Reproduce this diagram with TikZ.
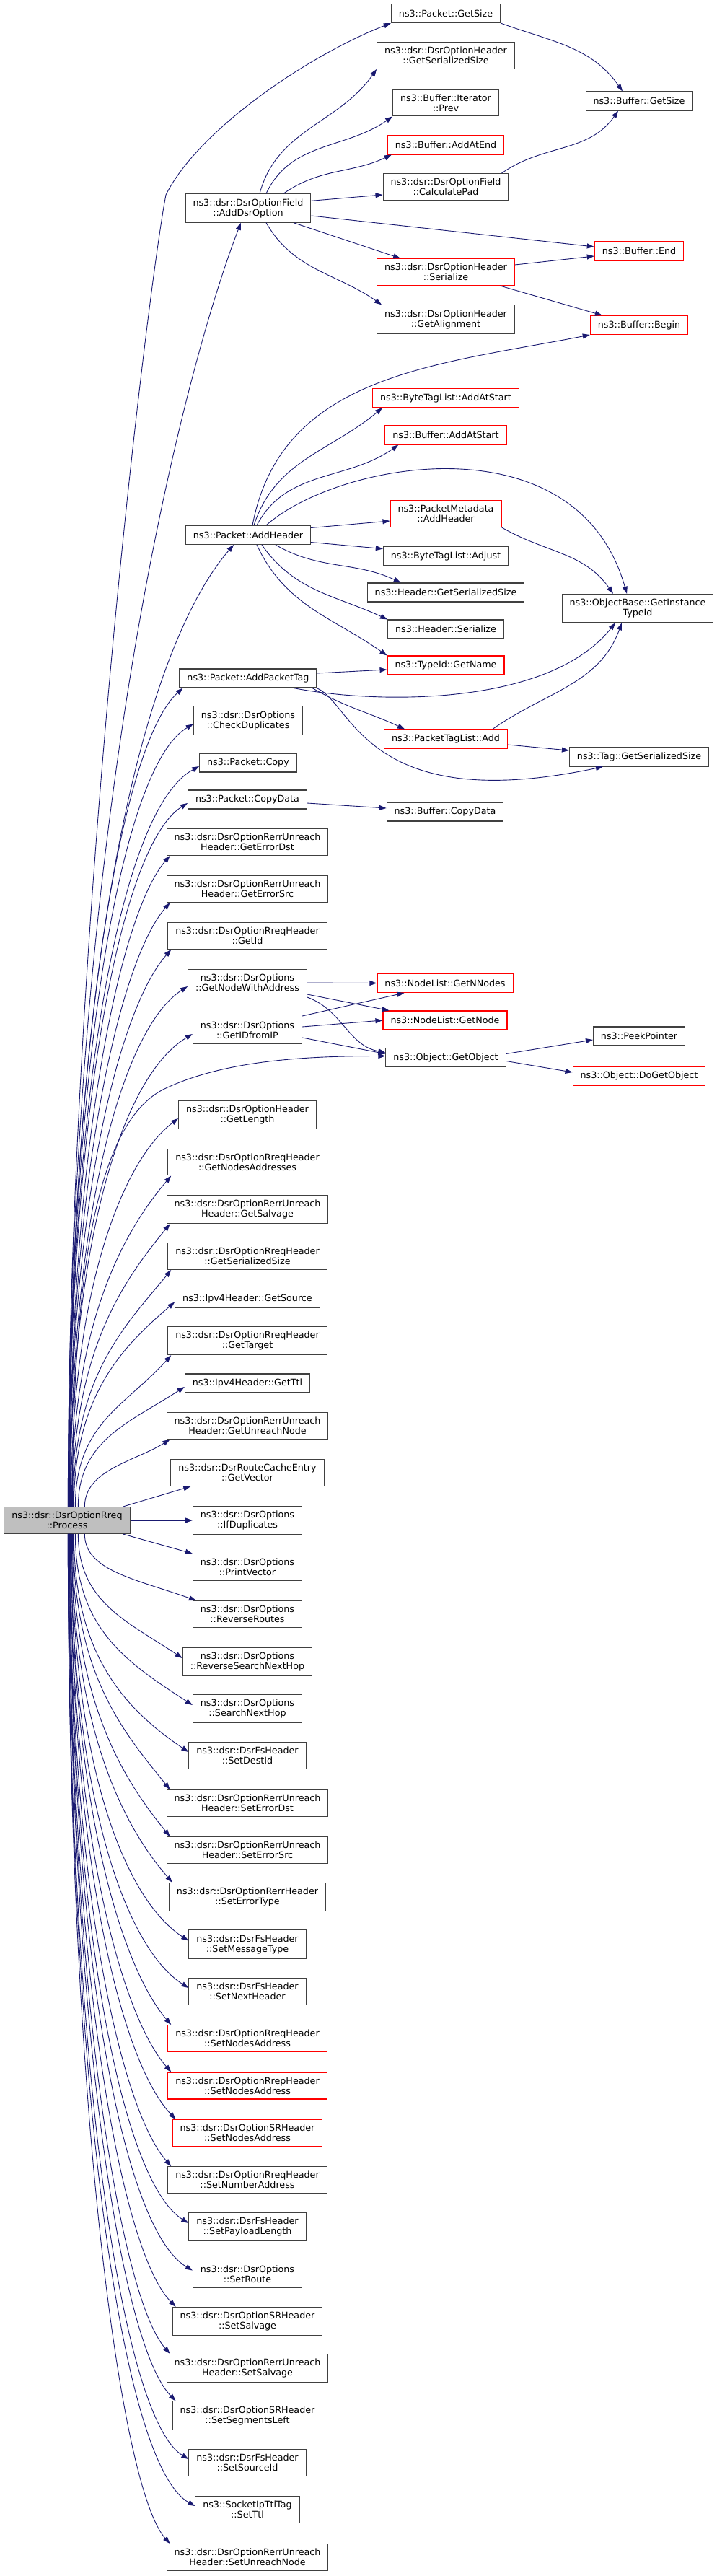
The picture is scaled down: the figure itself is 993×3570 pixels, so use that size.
\documentclass[tikz,border=0pt]{standalone}
\usepackage{fontspec}
\setmainfont{DejaVu Sans}
\usetikzlibrary{arrows.meta,calc}

\definecolor{callblue}{HTML}{191970}
\definecolor{boxgray}{HTML}{BFBFBF}
\definecolor{boxline}{HTML}{404040}

\tikzset{
  fn/.style={draw=boxline, line width=1.1pt, fill=white, align=center,
    inner xsep=10.5pt, inner ysep=6.5pt, minimum height=26pt,
    font=\fontsize{12.7}{14}\selectfont},
  fnred/.style={fn, draw=red},
  fnroot/.style={fn, fill=boxgray},
  call/.style={draw=callblue, line width=0.9pt,
    -{Triangle[length=10pt,width=7pt]}},
}

\begin{document}
\begin{tikzpicture}[x=1pt,y=1pt]
  \useasboundingbox (0,0) rectangle (993,-3570);

  % The caller:
  % Grey box on the far left, every call starts here
  \node[fnroot] (root) at (93,-2107) {ns3::dsr::DsrOptionRreq\\::Process};

  % Right column:
  \node[fn]    (bgetsize) at (886,-140)   {ns3::Buffer::GetSize};
  \node[fnred] (bend)     at (886,-348)   {ns3::Buffer::End};
  \node[fnred] (bbegin)   at (886,-450.5) {ns3::Buffer::Begin};
  \node[fn]    (gitid)    at (884,-843)   {ns3::ObjectBase::GetInstance\\TypeId};
  \node[fn]    (taggss)   at (886,-1049)  {ns3::Tag::GetSerializedSize};
  \node[fn]    (peek)     at (886,-1436)  {ns3::PeekPointer};
  \node[fnred] (dogetobj) at (886,-1491)  {ns3::Object::DoGetObject};

  % Middle column:
  \node[fn]    (pgetsize)  at (618,-18.5)   {ns3::Packet::GetSize};
  \node[fn]    (ohgss)     at (618,-77)     {ns3::dsr::DsrOptionHeader\\::GetSerializedSize};
  \node[fn]    (prev)      at (618,-142.5)  {ns3::Buffer::Iterator\\::Prev};
  \node[fnred] (addatend)  at (618,-201)    {ns3::Buffer::AddAtEnd};
  \node[fn]    (calcpad)   at (618,-259)    {ns3::dsr::DsrOptionField\\::CalculatePad};
  \node[fnred] (ohser)     at (618,-377)    {ns3::dsr::DsrOptionHeader\\::Serialize};
  \node[fn]    (ohalign)   at (618,-442.5)  {ns3::dsr::DsrOptionHeader\\::GetAlignment};
  \node[fnred] (btladd)    at (618,-551.5)  {ns3::ByteTagList::AddAtStart};
  \node[fnred] (baddstart) at (618,-603)    {ns3::Buffer::AddAtStart};
  \node[fnred] (pmaddh)    at (618,-712)    {ns3::PacketMetadata\\::AddHeader};
  \node[fn]    (btladj)    at (618,-770.5)  {ns3::ByteTagList::Adjust};
  \node[fn]    (hgss)      at (618,-821)    {ns3::Header::GetSerializedSize};
  \node[fn]    (hser)      at (618,-872)    {ns3::Header::Serialize};
  \node[fnred] (tidname)   at (618,-922)    {ns3::TypeId::GetName};
  \node[fnred] (ptladd)    at (618,-1024)   {ns3::PacketTagList::Add};
  \node[fn]    (bcopy)     at (617,-1125)   {ns3::Buffer::CopyData};
  \node[fnred] (nnodes)    at (617,-1362.5) {ns3::NodeList::GetNNodes};
  \node[fnred] (getnode)   at (617,-1414)   {ns3::NodeList::GetNode};
  \node[fn]    (getobj)    at (618,-1465.5) {ns3::Object::GetObject};

  % First column, the callees of Process:
  \node[fn] (adddsr)    at (344,-288.5) {ns3::dsr::DsrOptionField\\::AddDsrOption};
  \node[fn] (addh)      at (344,-741.5) {ns3::Packet::AddHeader};
  \node[fn] (addtag)    at (344,-940)   {ns3::Packet::AddPacketTag};
  \node[fn] (chkdup)    at (344,-998.5) {ns3::dsr::DsrOptions\\::CheckDuplicates};
  \node[fn] (pcopy)     at (344,-1057)  {ns3::Packet::Copy};
  \node[fn] (pcopydata) at (343,-1108)  {ns3::Packet::CopyData};
  % The rest of the column is a plain list: name / y / border colour / text
  \foreach \nm/\yy/\bc/\txt in {
    gerrdst/1167/boxline/{ns3::dsr::DsrOptionRerrUnreach\\Header::GetErrorDst},
    gerrsrc/1232/boxline/{ns3::dsr::DsrOptionRerrUnreach\\Header::GetErrorSrc},
    getid/1297/boxline/{ns3::dsr::DsrOptionRreqHeader\\::GetId},
    getnwa/1362/boxline/{ns3::dsr::DsrOptions\\::GetNodeWithAddress},
    getidip/1428/boxline/{ns3::dsr::DsrOptions\\::GetIDfromIP},
    getlen/1545/boxline/{ns3::dsr::DsrOptionHeader\\::GetLength},
    getaddrs/1610.5/boxline/{ns3::dsr::DsrOptionRreqHeader\\::GetNodesAddresses},
    getsalv/1676/boxline/{ns3::dsr::DsrOptionRerrUnreach\\Header::GetSalvage},
    getss/1741/boxline/{ns3::dsr::DsrOptionRreqHeader\\::GetSerializedSize},
    getsrc/1799.5/boxline/{ns3::Ipv4Header::GetSource},
    gettarget/1858/boxline/{ns3::dsr::DsrOptionRreqHeader\\::GetTarget},
    getttl/1917/boxline/{ns3::Ipv4Header::GetTtl},
    getunr/1976/boxline/{ns3::dsr::DsrOptionRerrUnreach\\Header::GetUnreachNode},
    getvec/2041/boxline/{ns3::dsr::DsrRouteCacheEntry\\::GetVector},
    ifdup/2107/boxline/{ns3::dsr::DsrOptions\\::IfDuplicates},
    prvec/2172/boxline/{ns3::dsr::DsrOptions\\::PrintVector},
    revroutes/2237/boxline/{ns3::dsr::DsrOptions\\::ReverseRoutes},
    revsnh/2303/boxline/{ns3::dsr::DsrOptions\\::ReverseSearchNextHop},
    snh/2368/boxline/{ns3::dsr::DsrOptions\\::SearchNextHop},
    setdest/2433/boxline/{ns3::dsr::DsrFsHeader\\::SetDestId},
    seterrdst/2499/boxline/{ns3::dsr::DsrOptionRerrUnreach\\Header::SetErrorDst},
    seterrsrc/2564/boxline/{ns3::dsr::DsrOptionRerrUnreach\\Header::SetErrorSrc},
    seterrtype/2629/boxline/{ns3::dsr::DsrOptionRerrHeader\\::SetErrorType},
    setmsg/2694.5/boxline/{ns3::dsr::DsrFsHeader\\::SetMessageType},
    setnext/2760/boxline/{ns3::dsr::DsrFsHeader\\::SetNextHeader},
    rreqsna/2825/red/{ns3::dsr::DsrOptionRreqHeader\\::SetNodesAddress},
    rrepsna/2890.5/red/{ns3::dsr::DsrOptionRrepHeader\\::SetNodesAddress},
    srsna/2956/red/{ns3::dsr::DsrOptionSRHeader\\::SetNodesAddress},
    setnum/3021/boxline/{ns3::dsr::DsrOptionRreqHeader\\::SetNumberAddress},
    setpay/3086/boxline/{ns3::dsr::DsrFsHeader\\::SetPayloadLength},
    setroute/3151.5/boxline/{ns3::dsr::DsrOptions\\::SetRoute},
    srsalv/3217/boxline/{ns3::dsr::DsrOptionSRHeader\\::SetSalvage},
    rerrsalv/3282/boxline/{ns3::dsr::DsrOptionRerrUnreach\\Header::SetSalvage},
    setseg/3347.5/boxline/{ns3::dsr::DsrOptionSRHeader\\::SetSegmentsLeft},
    setsrcid/3413/boxline/{ns3::dsr::DsrFsHeader\\::SetSourceId},
    setttl/3478/boxline/{ns3::SocketIpTtlTag\\::SetTtl},
    setunr/3544/boxline/{ns3::dsr::DsrOptionRerrUnreach\\Header::SetUnreachNode}}
    \node[fn, draw=\bc] (\nm) at (343,-\yy) {\txt};

  % Calls from Process:
  % They leave the top or the bottom of the grey box, run almost straight up
  % (or down) and bend into the lower (upper) left corner of the callee.
  % List: callee / start offset on the box / how low the bend starts
  \foreach \tg/\off/\dd in {addtag/90/80, gerrdst/91/80, gerrsrc/91/80,
      getid/91/80, getaddrs/94/80, getsalv/95/80, getss/96/80,
      gettarget/99/70, getunr/112/30}{
    \coordinate (s) at ([xshift=\off]root.north west);
    \coordinate (e) at ([xshift=5]\tg.south west);
    \draw[call] (s) .. controls ($(s)!.55!(s|-e)$) and ($(s|-e)+(70,-\dd)$) .. (e);
  }
  % narrower boxes are entered on their left side
  \foreach \tg/\off/\dd in {chkdup/90/60, pcopy/90/60, pcopydata/90/60,
      getnwa/92/60, getidip/92/60, getlen/93/60, getsrc/97/60, getttl/103/50}{
    \coordinate (s) at ([xshift=\off]root.north west);
    \coordinate (e) at ([yshift=-5]\tg.west);
    \draw[call] (s) .. controls ($(s)!.55!(s|-e)$) and ($(s|-e)+(70,-\dd)$) .. (e);
  }
  \foreach \tg/\off/\dd in {revroutes/112/30, seterrdst/96/80, seterrsrc/95/80,
      seterrtype/94/80, rreqsna/93/80, rrepsna/92/80, srsna/92/80,
      setnum/91/80, srsalv/90/80, rerrsalv/90/80, setseg/90/80, setunr/89/80}{
    \coordinate (s) at ([xshift=\off]root.south west);
    \coordinate (e) at ([xshift=5]\tg.north west);
    \draw[call] (s) .. controls ($(s)!.55!(s|-e)$) and ($(s|-e)+(70,\dd)$) .. (e);
  }
  \foreach \tg/\off/\dd in {revsnh/103/50, snh/99/60, setdest/97/60,
      setmsg/94/60, setnext/93/60, setpay/91/60, setroute/91/60,
      setsrcid/89/60, setttl/89/60}{
    \coordinate (s) at ([xshift=\off]root.south west);
    \coordinate (e) at ([yshift=5]\tg.west);
    \draw[call] (s) .. controls ($(s)!.55!(s|-e)$) and ($(s|-e)+(70,\dd)$) .. (e);
  }
  % the long ones get their own shape
  \draw[call] ([xshift=89]root.north west) .. controls +(0,787) and +(-25,-130) .. (230,-270)
    .. controls +(45,90) and +(-115,-45) .. (pgetsize.south west);
  \draw[call] ([xshift=89]root.north west) .. controls +(0,978) and +(-74,-191) .. ([xshift=-10]adddsr.south);
  \draw[call] ([xshift=90]root.north west) .. controls +(0,837) and +(-109.5,-126) .. ([xshift=-20]addh.south);
  \draw[call] ([xshift=95]root.north west) .. controls +(0,387) and +(-80,-37) .. (230,-1508)
    .. controls +(80,37) and +(-120,0) .. ([yshift=2]getobj.west);
  \draw[call] ([xshift=165]root.north west) -- ([xshift=28]getvec.south west);
  \draw[call] (root.east) -- (ifdup.west);
  \draw[call] ([xshift=165]root.south west) -- (prvec.north west);

  % AddDsrOption:
  \draw[call] ([xshift=16]adddsr.north) to[out=75,in=235] (ohgss.south west);
  \draw[call] ([xshift=25]adddsr.north) to[out=65,in=215] (prev.south west);
  \draw[call] ([xshift=49]adddsr.north) to[out=35,in=205] ([xshift=6]addatend.south west);
  \draw[call] ([yshift=-10]adddsr.north east) -- ([yshift=-11]calcpad.west);
  \draw[call] ([yshift=-10.5]adddsr.east) -- ([yshift=6]bend.west);
  \draw[call] ([xshift=63]adddsr.south) -- ([xshift=33]ohser.north west);
  \draw[call] ([xshift=25]adddsr.south) to[out=-60,in=145] ([xshift=7]ohalign.north west);
  \draw[call] (pgetsize.south east) to[out=-20,in=125] ([xshift=-23]bgetsize.north);
  \draw[call] ([xshift=-10]calcpad.north east) to[out=35,in=235] ([xshift=-29]bgetsize.south);
  \draw[call] ([yshift=10]ohser.east) -- ([yshift=-7]bend.west);
  \draw[call] ([xshift=-21]ohser.south east) -- ([xshift=17]bbegin.north west);

  % AddHeader:
  % the call to Buffer::Begin climbs past the left end of AddAtStart first
  \draw[call] ([xshift=6]addh.north) .. controls +(40,209) and +(-215,-42) .. (bbegin.south west);
  \draw[call] ([xshift=8]addh.north) to[out=72,in=220] ([xshift=14]btladd.south west);
  \draw[call] ([xshift=12]addh.north) to[out=62,in=215] ([xshift=19]baddstart.south west);
  \draw[call] ([xshift=25]addh.north) .. controls +(101,89) and +(-69,243) .. ([xshift=-15]gitid.north);
  \draw[call] ([yshift=10]addh.east) -- ([yshift=-10]pmaddh.west);
  \draw[call] ([yshift=-10]addh.east) -- ([yshift=10]btladj.west);
  \draw[call] ([xshift=38]addh.south) to[out=-30,in=155] ([xshift=47]hgss.north west);
  \draw[call] ([xshift=19]addh.south) to[out=-55,in=155] (hser.north west);
  \draw[call] ([xshift=12]addh.south) to[out=-65,in=145] (tidname.north west);
  \draw[call] (pmaddh.south east) to[out=-30,in=125] ([xshift=-34]gitid.north);

  % AddPacketTag:
  \draw[call] ([yshift=7]addtag.east) -- ([yshift=-6]tidname.west);
  \draw[call] ([xshift=63]addtag.south) .. controls +(113,-22) and +(-93,-117) .. ([xshift=-31]gitid.south);
  \draw[call] ([xshift=89]addtag.south) to[out=-30,in=155] ([xshift=29]ptladd.north west);
  \draw[call] ([xshift=95]addtag.south) .. controls +(50,-20) and +(-330,-70) .. ([xshift=47]taggss.south west);
  \draw[call] ([xshift=-21]ptladd.north east) to[out=35,in=250] ([xshift=-22]gitid.south);
  \draw[call] ([yshift=-8]ptladd.east) -- ([yshift=9]taggss.west);

  % Node lookups:
  \draw[call] ([yshift=-5]pcopydata.east) -- ([yshift=5]bcopy.west);
  \draw[call] (getnwa.east) -- (nnodes.west);
  \draw[call] ([yshift=-16]getnwa.east) -- ([xshift=9]getnode.north west);
  \draw[call] ([yshift=-20]getnwa.east) to[out=-20,in=170] ([yshift=7]getobj.west);
  \draw[call] ([yshift=20]getidip.east) -- ([xshift=38]nnodes.south west);
  \draw[call] ([yshift=5]getidip.east) -- (getnode.west);
  \draw[call] ([yshift=-10]getidip.east) -- ([yshift=5]getobj.west);
  \draw[call] ([yshift=5]getobj.east) -- ([yshift=-5]peek.west);
  \draw[call] ([yshift=-5]getobj.east) -- ([yshift=5]dogetobj.west);
\end{tikzpicture}
\end{document}
